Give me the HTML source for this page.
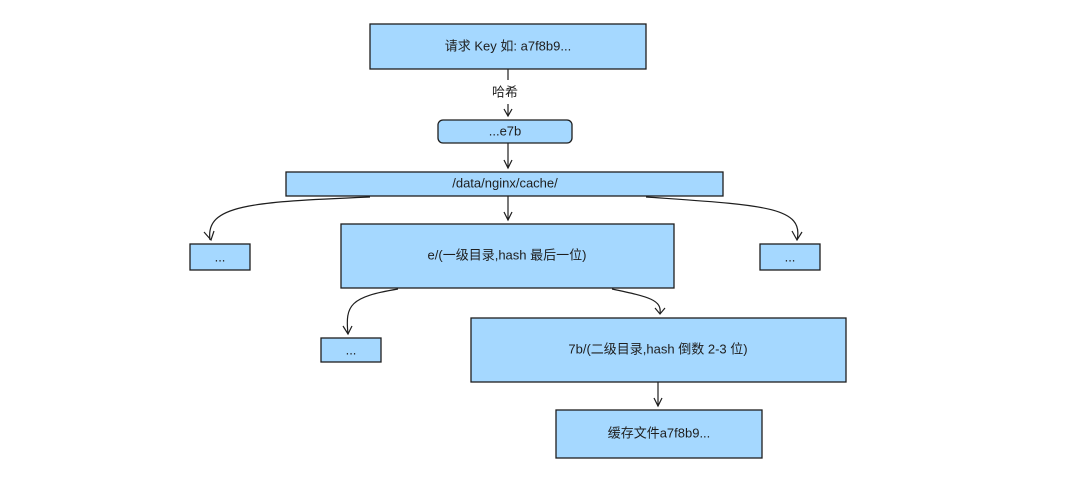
<!DOCTYPE html>
<html><head><meta charset="utf-8"><style>
html,body{margin:0;padding:0;background:#fff;}
svg text{font-family:"Liberation Sans","Noto Sans CJK SC",sans-serif;font-size:13px;fill:#1e1e1e;text-anchor:middle;dominant-baseline:middle;}
</style></head><body>
<svg width="1080" height="472" viewBox="0 0 1080 472" xmlns="http://www.w3.org/2000/svg">
<g fill="#a5d8ff" stroke="#1e1e1e" stroke-width="1.3">
<rect x="370" y="24" width="276" height="45"/>
<rect x="438" y="120" width="134" height="23" rx="5"/>
<rect x="286" y="172" width="437" height="24"/>
<rect x="190" y="244" width="60" height="26"/>
<rect x="341" y="224" width="333" height="64"/>
<rect x="760" y="244" width="60" height="26"/>
<rect x="321" y="338" width="60" height="24"/>
<rect x="471" y="318" width="375" height="64"/>
<rect x="556" y="410" width="206" height="48"/>
</g>
<g fill="none" stroke="#1e1e1e" stroke-width="1.2">
<path d="M508 69 V80"/>
<path d="M508 104 V116"/><path d="M504 109 L508 116 L512 109"/>
<path d="M508 143 V168"/><path d="M504 160 L508 168 L512 160"/>
<path d="M508 196 V220"/><path d="M504 212 L508 220 L512 212"/>
<path d="M370 197 C250 202 205 205 210 240"/><path d="M204 232 L211 240 L214 231"/>
<path d="M646 197 C760 205 805 206 797 240"/><path d="M792 231 L797 240 L802 232"/>
<path d="M398 289 C350 297 345 305 348 334"/><path d="M343 326 L348 334 L352 326"/>
<path d="M612 289 C650 297 662 300 660 314"/><path d="M655 308 L660 314 L665 308"/>
<path d="M658 382 V406"/><path d="M654 398 L658 406 L662 398"/>
</g>
<text x="508" y="47">请求 Key 如: a7f8b9...</text>
<text x="505" y="93">哈希</text>
<text x="505" y="132">...e7b</text>
<text x="505" y="184">/data/nginx/cache/</text>
<text x="220" y="258">...</text>
<text x="507" y="256">e/(一级目录,hash 最后一位)</text>
<text x="790" y="258">...</text>
<text x="351" y="351">...</text>
<text x="658" y="350">7b/(二级目录,hash 倒数 2-3 位)</text>
<text x="659" y="434">缓存文件a7f8b9...</text>
</svg>
</body></html>
